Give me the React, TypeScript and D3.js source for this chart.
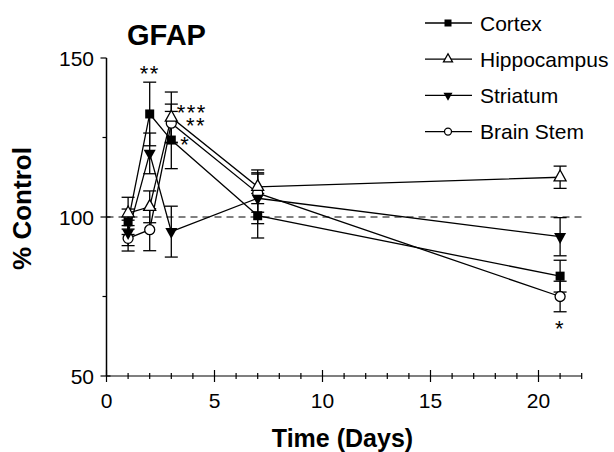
import React from "react";
import * as d3 from "d3";

const days = [1, 2, 3, 7, 21];

const cortex = [98.5, 132.4, 124.2, 100.4, 81.4];
const cortexErr = [4, 10, 9, 7, 5];
const hippocampus = [101.2, 103.2, 131.3, 109.5, 112.5];
const hippocampusErr = [5, 5, 8, 5.3, 3.5];
const striatum = [95, 120, 95.4, 105.9, 93.8];
const striatumErr = [4, 6.4, 8, 8, 6];
const brainStem = [93.3, 96, 129.5, 107.5, 75];
const brainStemErr = [4, 6.6, 6, 6, 4.8];

const seriesNames = ["Cortex", "Hippocampus", "Striatum", "Brain Stem"];
const xMajorTicks = [0, 5, 10, 15, 20];
const xMinorTicks = d3.range(0, 23);
const yMajorTicks = [50, 100, 150];
const yMinorTicks = [75, 125];

// significance marks: [day, value, label]
const stars: [number, number, string][] = [
  [2, 146.4, "**"],
  [3.95, 134.3, "***"],
  [4.15, 130.2, "**"],
  [3.65, 124.1, "*"],
  [21, 66.2, "*"],
];

const W = 614;
const H = 452;
const font = "'Liberation Sans', Arial, sans-serif";

const x = d3.scaleLinear().domain([0, 22]).range([106.5, 581.7]);
const y = d3.scaleLinear().domain([50, 150]).range([376, 58]);

type Kind = "square" | "triUp" | "triDown" | "circle";

function Marker({ kind, cx, cy, s }: { kind: Kind; cx: number; cy: number; s: number }) {
  if (kind === "square")
    return <rect x={cx - s / 2} y={cy - s / 2} width={s} height={s} fill="#000" />;
  if (kind === "circle")
    return <circle cx={cx} cy={cy} r={s / 2} fill="#fff" stroke="#000" strokeWidth={1.3} />;
  const h = s * 0.9;
  const d =
    kind === "triUp"
      ? `M${cx},${cy - (2 * h) / 3}L${cx + s / 2},${cy + h / 3}L${cx - s / 2},${cy + h / 3}Z`
      : `M${cx},${cy + (2 * h) / 3}L${cx + s / 2},${cy - h / 3}L${cx - s / 2},${cy - h / 3}Z`;
  return kind === "triUp" ? (
    <path d={d} fill="#fff" stroke="#000" strokeWidth={1.3} />
  ) : (
    <path d={d} fill="#000" />
  );
}

const series = [
  { name: "Brain Stem", vals: brainStem, err: brainStemErr, kind: "circle" as Kind, size: 10 },
  { name: "Striatum", vals: striatum, err: striatumErr, kind: "triDown" as Kind, size: 12 },
  { name: "Hippocampus", vals: hippocampus, err: hippocampusErr, kind: "triUp" as Kind, size: 12 },
  { name: "Cortex", vals: cortex, err: cortexErr, kind: "square" as Kind, size: 9 },
];

const legendKinds: Record<string, Kind> = {
  Cortex: "square",
  Hippocampus: "triUp",
  Striatum: "triDown",
  "Brain Stem": "circle",
};
const legendSizes: Record<string, number> = {
  Cortex: 7,
  Hippocampus: 9,
  Striatum: 9,
  "Brain Stem": 7,
};

export default function App() {
  const line = d3
    .line<number>()
    .x((_, i) => x(days[i]))
    .y((v) => y(v));

  const cap = 6.5;

  return (
    <svg
      width={W}
      height={H}
      style={{ position: "absolute", left: 0, top: 0, background: "#fff" }}
      fontFamily={font}
    >
      {/* title */}
      <text x={127} y={45} fontSize={29} fontWeight="bold">
        GFAP
      </text>

      {/* reference line at 100 */}
      <line
        x1={x(0)}
        x2={x(22)}
        y1={y(100)}
        y2={y(100)}
        stroke="#000"
        strokeWidth={1}
        strokeDasharray="7,5"
      />

      {/* y axis */}
      <line x1={x(0)} x2={x(0)} y1={y(150)} y2={y(50)} stroke="#000" strokeWidth={1.5} />
      {yMajorTicks.map((t) => (
        <g key={t}>
          <line
            x1={x(0) - 6}
            x2={t === 150 ? x(0) : x(0) + 4}
            y1={y(t)}
            y2={y(t)}
            stroke="#000"
            strokeWidth={1.2}
          />
          <text
            x={94}
            y={y(t)}
            fontSize={21}
            textAnchor="end"
            dominantBaseline="central"
          >
            {t}
          </text>
        </g>
      ))}
      {yMinorTicks.map((t) => (
        <line key={t} x1={x(0) - 4} x2={x(0)} y1={y(t)} y2={y(t)} stroke="#000" strokeWidth={1.2} />
      ))}

      {/* x axis */}
      <line x1={x(0)} x2={x(22)} y1={y(50)} y2={y(50)} stroke="#000" strokeWidth={1.2} />
      {xMinorTicks.map((t) => (
        <line
          key={t}
          x1={x(t)}
          x2={x(t)}
          y1={y(50) - (xMajorTicks.includes(t) ? 6 : 3)}
          y2={y(50) + (xMajorTicks.includes(t) ? 6 : 3)}
          stroke="#000"
          strokeWidth={1.2}
        />
      ))}
      {xMajorTicks.map((t) => (
        <text key={t} x={x(t)} y={408} fontSize={21} textAnchor="middle">
          {t}
        </text>
      ))}

      {/* axis titles */}
      <text x={342.5} y={447} fontSize={25} fontWeight="bold" textAnchor="middle">
        Time (Days)
      </text>
      <text
        transform="translate(31,208.5) rotate(-90)"
        fontSize={26}
        fontWeight="bold"
        textAnchor="middle"
      >
        % Control
      </text>

      {/* lines */}
      {series.map((s) => (
        <path key={s.name} d={line(s.vals) || ""} fill="none" stroke="#000" strokeWidth={1.3} />
      ))}

      {/* error bars */}
      {series.map((s) =>
        s.vals.map((v, i) => (
          <g key={s.name + i} stroke="#000" strokeWidth={1.3}>
            <line x1={x(days[i])} x2={x(days[i])} y1={y(v + s.err[i])} y2={y(v - s.err[i])} />
            <line x1={x(days[i]) - cap} x2={x(days[i]) + cap} y1={y(v + s.err[i])} y2={y(v + s.err[i])} />
            <line x1={x(days[i]) - cap} x2={x(days[i]) + cap} y1={y(v - s.err[i])} y2={y(v - s.err[i])} />
          </g>
        ))
      )}

      {/* markers */}
      {series.map((s) =>
        s.vals.map((v, i) => (
          <Marker key={s.name + "m" + i} kind={s.kind} cx={x(days[i])} cy={y(v)} s={s.size} />
        ))
      )}

      {/* significance */}
      {stars.map(([d, v, label], i) => (
        <text
          key={i}
          x={x(d)}
          y={y(v) + 12}
          fontSize={22}
          textAnchor="middle"
          letterSpacing={1.5}
        >
          {label}
        </text>
      ))}

      {/* legend */}
      {seriesNames.map((n, i) => {
        const ly = 23 + i * 36.2;
        return (
          <g key={n}>
            <line x1={425} x2={472} y1={ly} y2={ly} stroke="#000" strokeWidth={1.3} />
            <Marker kind={legendKinds[n]} cx={448} cy={ly} s={legendSizes[n]} />
            <text x={480} y={ly} fontSize={21} dominantBaseline="central">
              {n}
            </text>
          </g>
        );
      })}
    </svg>
  );
}
